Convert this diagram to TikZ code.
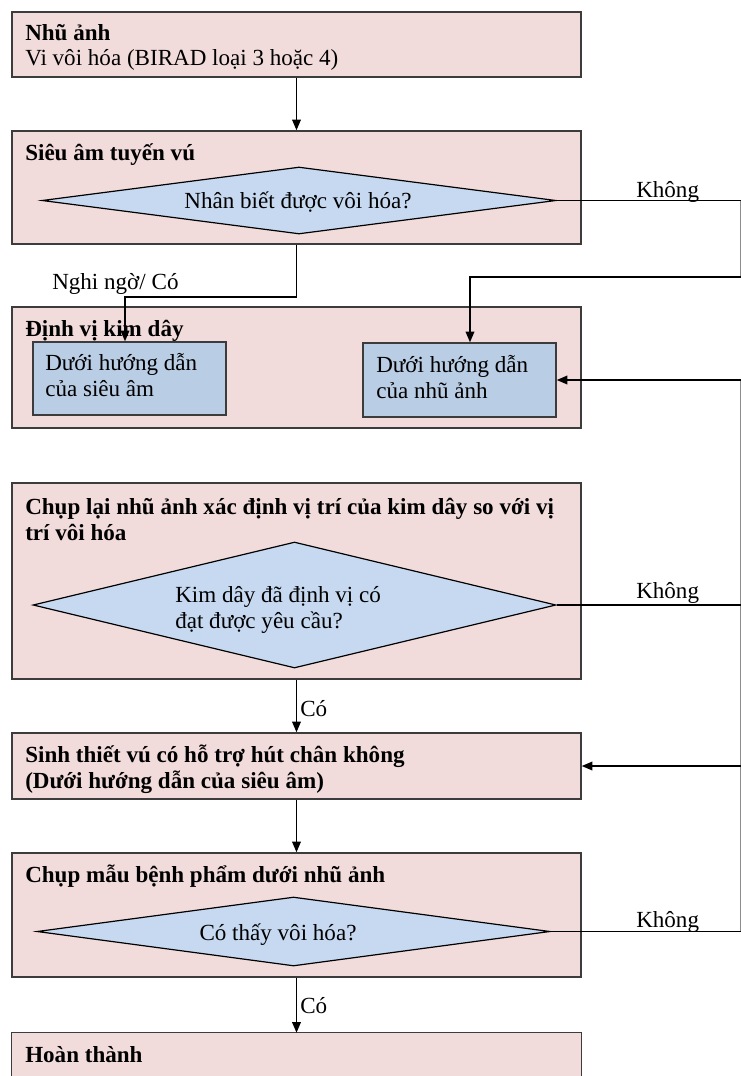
\documentclass[tikz,border=0pt]{standalone}
\usepackage{fontspec}
\setmainfont{Liberation Serif}
\usetikzlibrary{arrows.meta,shapes.geometric,fit}
\definecolor{pinkbg}{RGB}{242,220,219}
\definecolor{bluedia}{RGB}{198,217,241}
\definecolor{bluebox}{RGB}{185,205,229}
\definecolor{edgecol}{RGB}{60,60,60}
\begin{document}
\begin{tikzpicture}[x=0.75pt,y=-0.75pt,
  panel/.style={draw=edgecol,fill=pinkbg,line width=1.1pt,inner sep=0pt},
  subbox/.style={draw=edgecol,fill=bluebox,line width=1.1pt,inner sep=0pt},
  decision/.style={diamond,draw=black,fill=bluedia,line width=0.9pt,inner sep=0pt,aspect=8},
  txt/.style={font=\fontsize{17.3}{21}\selectfont,inner sep=0pt,anchor=base west},
  btxt/.style={txt,font=\fontsize{17.3}{21}\selectfont\bfseries},
  ctxt/.style={txt,anchor=base},
  conn/.style={line width=1.1pt,draw=black},
  arr/.style={conn,-{Triangle[length=8pt,width=6.5pt]}},
  edgeline/.style={line width=0.6pt,draw=black!45}
]
\useasboundingbox (0,0) rectangle (741,1076);

% panels
\node[panel, fit={(12,12) (581,77)}] (p1) {};
\node[panel, fit={(12,131) (581,244)}] (p2) {};
\node[panel, fit={(12,307) (581,428)}] (p3) {};
\node[panel, fit={(12,483) (581,679)}] (p4) {};
\node[panel, fit={(12,733) (581,799)}] (p5) {};
\node[panel, fit={(12,853) (581,977)}] (p6) {};
\node[fill=pinkbg, inner sep=0pt, fit={(12,1033) (581,1076)}] (p7) {};
\draw[draw=edgecol,line width=1.1pt] (p7.south west) -- (p7.north west) -- (p7.north east) -- (p7.south east);

% sub boxes
\node[subbox, fit={(33,342) (226,415)}] (sA) {};
\node[subbox, fit={(363,343) (556,417)}] (sB) {};

% decisions
\node[decision, minimum width=385.5pt, minimum height=50.25pt] (d1) at (299,200.5) {};
\node[decision, minimum width=392.25pt, minimum height=94.5pt] (d2) at (294.5,605) {};
\node[decision, minimum width=384.75pt, minimum height=51.75pt] (d3) at (293.5,931.5) {};

% texts
\node[btxt] (t1a) at (25,40) {Nhũ ảnh};
\node[txt] (t1b) at (25,65) {Vi vôi hóa (BIRAD loại 3 hoặc 4)};
\node[btxt] (t2) at (25,160) {Siêu âm tuyến vú};
\node[ctxt] (td1) at (298,208) {Nhân biết được vôi hóa?};
\node[btxt] (t3) at (25,336) {Định vị kim dây};
\node[txt] (tA1) at (45,370) {Dưới hướng dẫn};
\node[txt] (tA2) at (45,396) {của siêu âm};
\node[txt] (tB1) at (376,372) {Dưới hướng dẫn};
\node[txt] (tB2) at (376,398) {của nhũ ảnh};
\node[btxt] (t4a) at (25,514) {Chụp lại nhũ ảnh xác định vị trí của kim dây so với vị};
\node[btxt] (t4b) at (25,540) {trí vôi hóa};
\node[txt] (td2a) at (175,602) {Kim dây đã định vị có};
\node[txt] (td2b) at (175,628) {đạt được yêu cầu?};
\node[btxt] (t5a) at (25,762) {Sinh thiết vú có hỗ trợ hút chân không};
\node[btxt] (t5b) at (25,788) {(Dưới hướng dẫn của siêu âm)};
\node[btxt] (t6) at (25,882) {Chụp mẫu bệnh phẩm dưới nhũ ảnh};
\node[ctxt] (td3) at (278,940) {Có thấy vôi hóa?};
\node[btxt] (t7) at (25,1062) {Hoàn thành};

% labels
\node[txt] (lNghi) at (52,289) {Nghi ngờ/ Có};
\node[txt] (lK1) at (636,197) {Không};
\node[txt] (lK2) at (636,598) {Không};
\node[txt] (lK3) at (636,927) {Không};
\node[txt] (lC1) at (300,716) {Có};
\node[txt] (lC2) at (300,1013) {Có};

% coordinates
\coordinate (rtop) at (740.5,277);
\coordinate (rmid) at (740.5,380);
\coordinate (rbot) at (740.5,931.5);
\coordinate (yA) at (125,297);
\coordinate (xB) at (470,277);

% connectors
\draw[arr] (p1.south) -- (p2.north);
\draw[arr] (p2.south) |- (yA) -- (yA |- sA.north);
\draw[conn] (d1.east) -- (d1.east -| rtop);
\draw[edgeline] (d1.east -| rtop) -- (rtop);
\draw[arr] (rtop) -- (xB) -- (xB |- sB.north);
\draw[edgeline] (rmid) -- (rbot);
\draw[arr] (rmid) -- (sB.east);
\draw[conn] (d2.east) -- (d2.east -| rmid);
\draw[arr] (p4.south) -- (p5.north);
\draw[arr] (p5.east -| rmid) -- (p5.east);
\draw[arr] (p5.south) -- (p6.north);
\draw[conn] (d3.east) -- (d3.east -| rmid);
\draw[arr] (p6.south) -- (p7.north);
\end{tikzpicture}
\end{document}
